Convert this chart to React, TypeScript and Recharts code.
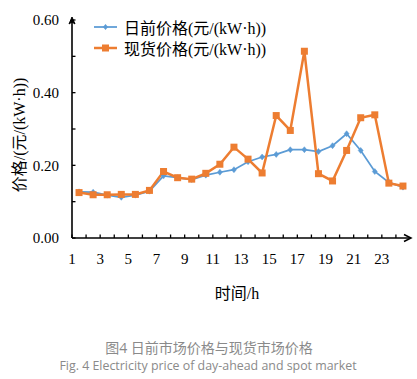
import React from 'react';
import { LineChart, Line, XAxis, YAxis } from 'recharts';

const hours = [1, 2, 3, 4, 5, 6, 7, 8, 9, 10, 11, 12, 13, 14, 15, 16, 17, 18, 19, 20, 21, 22, 23, 24];
const dayAheadPrice = [0.127, 0.126, 0.118, 0.112, 0.118, 0.129, 0.171, 0.166, 0.161, 0.173, 0.181, 0.188, 0.210, 0.223, 0.230, 0.243, 0.243, 0.238, 0.254, 0.287, 0.241, 0.183, 0.153, 0.140];
const spotPrice = [0.125, 0.119, 0.119, 0.120, 0.120, 0.131, 0.183, 0.166, 0.162, 0.178, 0.203, 0.250, 0.217, 0.179, 0.337, 0.296, 0.514, 0.177, 0.157, 0.241, 0.331, 0.339, 0.151, 0.143];

const yTicks = [0, 0.1, 0.2, 0.3, 0.4, 0.5, 0.6];
const yTickLabels = ['0.00', '', '0.20', '', '0.40', '', '0.60'];
const xTicks = [0.5, 1.5, 2.5, 3.5, 4.5, 5.5, 6.5, 7.5, 8.5, 9.5, 10.5, 11.5, 12.5, 13.5, 14.5, 15.5, 16.5, 17.5, 18.5, 19.5, 20.5, 21.5, 22.5, 23.5, 24.5];
const xTickLabels = ['1', '', '3', '', '5', '', '7', '', '9', '', '11', '', '13', '', '15', '', '17', '', '19', '', '21', '', '23', '', ''];

const dayAheadName = '日前价格(元/(kW·h))';
const spotName = '现货价格(元/(kW·h))';
const yTitle = '价格/(元/(kW·h))';
const xTitle = '时间/h';
const captionCn = '图4 日前市场价格与现货市场价格';
const captionEn = 'Fig. 4 Electricity price of day-ahead and spot market';

const BLUE = '#5B9BD5';
const ORANGE = '#ED7D31';
const SERIF = "'Liberation Serif', 'Times New Roman', 'Noto Sans CJK SC', serif";
const SANS = "'Open Sans', 'Noto Sans', 'Noto Sans CJK SC', sans-serif";

const data = hours.map((h, i) => ({ hour: h, dayAhead: dayAheadPrice[i], spot: spotPrice[i] }));

const XTick = (props: any) => {
  const { x, y, index, payload } = props;
  const label = xTickLabels[index] ?? '';
  const isLast = payload.value === xTicks[xTicks.length - 1];
  return (
    <g>
      {!isLast && <line x1={x} x2={x} y1={y} y2={y - 3.5} stroke="#000" strokeWidth={1.3} />}
      {label && (
        <text x={x} y={y + 26} textAnchor="middle" fontFamily={SERIF} fontSize={15} fill="#000">
          {label}
        </text>
      )}
      {isLast && (
        <polyline points={`${x - 6},${y - 3.5} ${x + 1},${y} ${x - 6},${y + 3.5}`} fill="none" stroke="#000" strokeWidth={1.5} />
      )}
    </g>
  );
};

const YTick = (props: any) => {
  const { x, y, index, payload } = props;
  const label = yTickLabels[index] ?? '';
  const isTop = payload.value === yTicks[yTicks.length - 1];
  return (
    <g>
      <line x1={x} x2={x + 3.5} y1={y} y2={y} stroke="#000" strokeWidth={1.3} />
      {label && (
        <text x={x - 13} y={y} dy="0.35em" textAnchor="end" fontFamily={SERIF} fontSize={15} fill="#000">
          {label}
        </text>
      )}
      {isTop && (
        <polygon points={`${x},${y - 3} ${x - 3},${y + 4} ${x},${y + 2} ${x + 3},${y + 4}`} fill="#000" stroke="#000" strokeWidth={1} />
      )}
    </g>
  );
};

const DiamondDot = (props: any) => {
  const { cx, cy } = props;
  if (cx == null || cy == null) return null;
  return <polygon points={`${cx},${cy - 3} ${cx + 2.5},${cy} ${cx},${cy + 3} ${cx - 2.5},${cy}`} fill={BLUE} stroke={BLUE} strokeWidth={0.5} />;
};

const SquareDot = (props: any) => {
  const { cx, cy } = props;
  if (cx == null || cy == null) return null;
  return <rect x={cx - 3.5} y={cy - 3.5} width={7} height={7} fill={ORANGE} />;
};

const LegendItem = ({ color, name, square }: { color: string; name: string; square: boolean }) => (
  <div style={{ display: 'flex', alignItems: 'center', height: 21 }}>
    <svg width={26} height={12} style={{ marginRight: 5 }}>
      <line x1={1} x2={24} y1={6} y2={6} stroke={color} strokeWidth={square ? 2.5 : 1.75} />
      {square ? (
        <rect x={9} y={2.5} width={7} height={7} fill={color} />
      ) : (
        <polygon points="12.5,3 15,6 12.5,9 10,6" fill={color} />
      )}
    </svg>
    <span style={{ fontFamily: SERIF, fontSize: 16, color: '#000', whiteSpace: 'nowrap' }}>{name}</span>
  </div>
);

export default function App() {
  return (
    <div style={{ position: 'absolute', left: 0, top: 0, width: 417, height: 379, background: '#fff', overflow: 'hidden' }}>
      <LineChart width={417} height={379} data={data} margin={{ top: 20, right: 7, left: 12, bottom: 111 }}>
        <XAxis
          dataKey="hour"
          type="number"
          domain={[0.5, 24.5]}
          ticks={xTicks}
          interval={0}
          tick={<XTick />}
          tickLine={false}
          tickSize={0}
          tickMargin={0}
          height={30}
          axisLine={{ stroke: '#000', strokeWidth: 1.6 }}
        />
        <YAxis
          type="number"
          domain={[0, 0.6]}
          ticks={yTicks}
          interval={0}
          tick={<YTick />}
          tickLine={false}
          tickSize={0}
          tickMargin={0}
          width={60}
          axisLine={{ stroke: '#000', strokeWidth: 1.6 }}
        />
        <Line
          type="linear"
          dataKey="dayAhead"
          name={dayAheadName}
          stroke={BLUE}
          strokeWidth={1.75}
          dot={<DiamondDot />}
          activeDot={false}
          isAnimationActive={false}
        />
        <Line
          type="linear"
          dataKey="spot"
          name={spotName}
          stroke={ORANGE}
          strokeWidth={2.5}
          dot={<SquareDot />}
          activeDot={false}
          isAnimationActive={false}
        />
      </LineChart>

      <div style={{ position: 'absolute', left: 93, top: 16 }}>
        <LegendItem color={BLUE} name={dayAheadName} square={false} />
        <LegendItem color={ORANGE} name={spotName} square={true} />
      </div>

      <div
        style={{
          position: 'absolute',
          left: 18,
          top: 135,
          transform: 'translate(-50%, -50%) rotate(-90deg)',
          fontFamily: SERIF,
          fontSize: 16,
          whiteSpace: 'nowrap',
          color: '#000',
        }}
      >
        {yTitle}
      </div>

      <div
        style={{
          position: 'absolute',
          left: 237,
          top: 292,
          transform: 'translate(-50%, -50%)',
          fontFamily: SERIF,
          fontSize: 16,
          whiteSpace: 'nowrap',
          color: '#000',
        }}
      >
        {xTitle}
      </div>

      <div
        style={{
          position: 'absolute',
          left: 209,
          top: 347,
          transform: 'translate(-50%, -50%)',
          fontFamily: SANS,
          fontSize: 14,
          whiteSpace: 'nowrap',
          color: '#8a8a8a',
        }}
      >
        {captionCn}
      </div>
      <div
        style={{
          position: 'absolute',
          left: 208,
          top: 365,
          transform: 'translate(-50%, -50%)',
          fontFamily: SANS,
          fontSize: 12.4,
          whiteSpace: 'nowrap',
          color: '#8a8a8a',
        }}
      >
        {captionEn}
      </div>
    </div>
  );
}
